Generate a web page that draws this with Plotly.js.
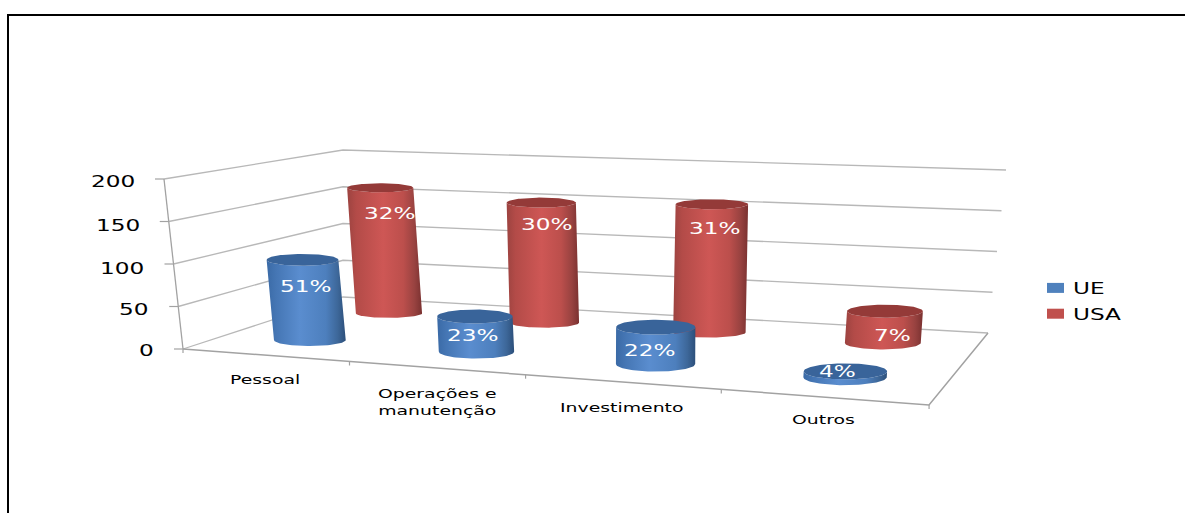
<!DOCTYPE html>
<html>
<head>
<meta charset="utf-8">
<script src="https://cdn.plot.ly/plotly-3.0.1.min.js"></script>
<style>
html,body{margin:0;padding:0;background:#fff;overflow:hidden}
.annotation-text{transform-box:fill-box;transform-origin:center;transform:scaleX(1.45)}
.legendtext{transform-box:fill-box;transform-origin:left center;transform:translateX(-9px) scaleX(1.45)}
</style>
</head>
<body>
<div id="chart" style="width:1185px;height:513px"></div>
<script>
// ---- data ----
const categories = ['Pessoal', 'Operações e<br>manutenção', 'Investimento', 'Outros'];
const ueValues  = [96, 40, 40, 6];
const usaValues = [163, 149, 152, 36];
const ueLabels  = ['51%', '23%', '22%', '4%'];
const usaLabels = ['32%', '30%', '31%', '7%'];
const yTicks = [0, 50, 100, 150, 200];

// ---- layout geometry of the 3-D view ----
const ueEllipse  = [6, 7, 7.5, 8];
const usaEllipse = [4.5, 5, 5, 6.5];
const ueShift  = [.011, .018, .018, .007];
const usaShift = [.018, .023, .020, .007];
const ueLabelX = [306, 473, 650, 837];
const ueLabelY = [287, 336, 351, 372];
const usaLabelX = [390, 547, 715, 892];
const usaLabelY = [214, 225, 229, 336];
const catLabelX = [265, 437, 622, 823];
const catLabelY = [379, 402, 407, 419];
const yLabelX = [146, 134, 122, 118, 113];
const yLabelY = [351, 310, 269, 226, 182];

const PXV = 0.85;                       // pixels per value at the front-left corner
const toY = py => (349 - py) / PXV;     // picture row -> value axis
// floor homography, unit square (s across, t depth)
const H = {a:568.8, b:219.7, c:183, d:-21.3, e:-0.3, f:349, g:-0.1908, h:0.174};
function floor(s, t){
  const w = H.g*s + H.h*t + 1;
  return {x:(H.a*s + H.b*t + H.c)/w, y:(H.d*s + H.e*t + H.f)/w, w};
}
// walls: corner at value 0 and at value 200
const wallFL = [[183,349],[164,179]];
const wallBL = [[343,297],[343,150]];
const wallBR = [[988,333],[1006,170]];
const frontRight = [929,405];
const wallAt = (c, v) => [c[0][0] + (c[1][0]-c[0][0])*v/200, c[0][1] + (c[1][1]-c[0][1])*v/200];

const GRID = '#b8b8b8', AXIS = '#a2a2a2';
const traces = [];
function line(pts, color, width){
  traces.push({type:'scatter', mode:'lines', x:pts.map(p=>p[0]), y:pts.map(p=>toY(p[1])),
    line:{color, width:width||1}, showlegend:false, hoverinfo:'skip'});
}
// gridlines on the two walls
yTicks.forEach(v => {
  const a = wallAt(wallFL, v), b = wallAt(wallBL, v), c = wallAt(wallBR, v);
  line([a, b, c], GRID, 1.3);
  line([[a[0]-9, a[1]], a], AXIS, 1.2);
});
// value axis, floor edges and category ticks
line([wallFL[0], wallFL[1]], AXIS, 1.3);
line([wallFL[0], frontRight, wallBR[0]], AXIS, 1.5);
[0, .262, .512, .762, 1].forEach(s => {
  const p = floor(s, 0);
  line([[p.x, p.y], [p.x, p.y + 4]], AXIS, 1.2);
});

// cylinders
const BLUE = {side:[[0,'#3a6aa6'],[.12,'#4576b4'],[.42,'#5a8dcf'],[.75,'#4d7fbd'],[.9,'#3d6799'],[1,'#2c4f7a']], top:'#39649a'};
const RED  = {side:[[0,'#9c4340'],[.12,'#b34b48'],[.48,'#ce5755'],[.75,'#bc4f4c'],[.9,'#984240'],[1,'#7a3130']], top:'#943a38'};
function cylinder(i, value, t, ry, shift, style){
  const c = floor((i + .5)/4 + shift, t);
  const rx = 36.5 / c.w;
  const h = value * PXV / c.w;
  const tx = c.x + (c.x - 640)/3600 * h, ty = c.y - h;
  const sx = [], sy = [], ex = [], ey = [];
  const N = 48;
  for (let k = 0; k <= N; k++){        // front of the base, left to right
    const a = Math.PI * k / N;
    sx.push(c.x - rx*Math.cos(a)); sy.push(toY(c.y + ry*Math.sin(a)));
  }
  for (let k = 0; k <= N; k++){        // front of the lid, right to left
    const a = Math.PI * k / N;
    sx.push(tx + rx*Math.cos(a)); sy.push(toY(ty + ry*Math.sin(a)));
  }
  for (let k = 0; k <= 2*N; k++){      // the lid
    const a = Math.PI * k / N;
    ex.push(tx + rx*Math.cos(a)); ey.push(toY(ty + ry*Math.sin(a)));
  }
  traces.push({type:'scatter', mode:'lines', x:sx, y:sy, fill:'toself', line:{width:0, color:'rgba(0,0,0,0)'},
    fillgradient:{type:'horizontal', colorscale:style.side}, showlegend:false, hoverinfo:'skip'});
  traces.push({type:'scatter', mode:'lines', x:ex, y:ey, fill:'toself', line:{width:0, color:'rgba(0,0,0,0)'},
    fillcolor:style.top, showlegend:false, hoverinfo:'skip'});
}
usaValues.forEach((v,i) => cylinder(i, v, .75, usaEllipse[i], usaShift[i], RED));
ueValues.forEach((v,i)  => cylinder(i, v, .25, ueEllipse[i], ueShift[i], BLUE));

// legend entries
traces.push({type:'scatter', mode:'lines', name:'UE',  legendgroup:'a', x:[null], y:[null], line:{color:'#4f81bd', width:10, dash:'17px,100px'}, hoverinfo:'skip'});
traces.push({type:'scatter', mode:'lines', name:'USA', legendgroup:'b', x:[null], y:[null], line:{color:'#c0504d', width:10, dash:'17px,100px'}, hoverinfo:'skip'});

const FONT = '"DejaVu Sans", Verdana, sans-serif';
const note = (text, x, py, size, color) => ({text, x, y:toY(py), xref:'x', yref:'y', xanchor:'center', yanchor:'middle',
  showarrow:false, borderpad:0, font:{family:FONT, size, color}});
const annotations = [];
yTicks.forEach((v,i) => annotations.push(note(String(v), yLabelX[i], yLabelY[i], 16, '#000')));
categories.forEach((c,i) => annotations.push(note(c, catLabelX[i], catLabelY[i], 13, '#000')));
ueLabels.forEach((c,i)  => annotations.push(note(c, ueLabelX[i], ueLabelY[i], 16, '#fff')));
usaLabels.forEach((c,i) => annotations.push(note(c, usaLabelX[i], usaLabelY[i], 16, '#fff')));

const layout = {
  width:1185, height:513, autosize:false,
  margin:{l:0, r:0, t:0, b:0},
  paper_bgcolor:'#fff', plot_bgcolor:'#fff',
  hovermode:false,
  xaxis:{range:[0,1185], visible:false, fixedrange:true},
  yaxis:{range:[toY(513), toY(0)], visible:false, fixedrange:true, tickvals:yTicks},
  legend:{x:1042/1185, y:1-271/513, xanchor:'left', yanchor:'top', bgcolor:'rgba(0,0,0,0)', tracegroupgap:2,
    font:{family:FONT, size:16, color:'#000'}, itemwidth:30},
  annotations,
  shapes:[
    {type:'line', xref:'paper', yref:'paper', x0:8/1185, x1:8/1185, y0:0, y1:1-15/513, line:{color:'#000', width:2}},
    {type:'line', xref:'paper', yref:'paper', x0:7/1185, x1:1, y0:1-15/513, y1:1-15/513, line:{color:'#000', width:2}}
  ]
};
Plotly.newPlot('chart', traces, layout, {displayModeBar:false, staticPlot:true});
</script>
</body>
</html>
